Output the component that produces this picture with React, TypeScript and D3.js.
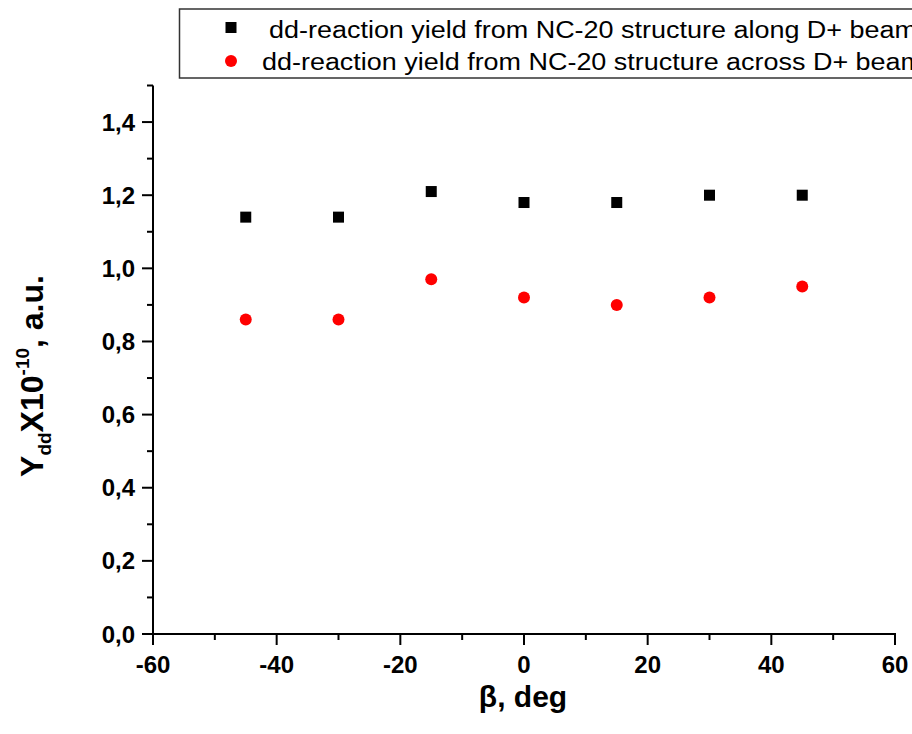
import React from "react";
import * as d3 from "d3";

const angles = [-45, -30, -15, 0, 15, 30, 45];
const alongValues = [1.14, 1.14, 1.21, 1.18, 1.18, 1.2, 1.2];
const acrossValues = [0.86, 0.86, 0.97, 0.92, 0.9, 0.92, 0.95];
const xTicks = [-60, -40, -20, 0, 20, 40, 60];
const xMinor = [-50, -30, -10, 10, 30, 50];
const yTicks = [0, 0.2, 0.4, 0.6, 0.8, 1.0, 1.2, 1.4];
const yMinor = [0.1, 0.3, 0.5, 0.7, 0.9, 1.1, 1.3, 1.5];
const legendLabels = [
  "dd-reaction yield from NC-20 structure along D+ beam",
  "dd-reaction yield from NC-20 structure across D+ beam",
];

const W = 912;
const H = 734;
const left = 153;
const right = 895;
const top = 85.5;
const bottom = 634;

export default function App() {
  const x = d3.scaleLinear().domain([-60, 60]).range([left, right]);
  const y = d3.scaleLinear().domain([0, 1.5]).range([bottom, top]);
  const font = "Arial, 'Liberation Sans', sans-serif";
  const fmt = (v: number) => v.toFixed(1).replace(".", ",");
  const sq = 11;

  return (
    <div style={{ position: "absolute", left: 0, top: 0, width: W, height: H, overflow: "hidden", background: "#fff" }}>
      <svg width={W} height={H} style={{ display: "block" }} fontFamily={font}>
        <rect width={W} height={H} fill="#fff" />
        {/* axes */}
        <line x1={left} x2={left} y1={top} y2={bottom + 1} stroke="#000" strokeWidth={2} />
        <line x1={left - 1} x2={right + 1} y1={bottom} y2={bottom} stroke="#000" strokeWidth={2} />
        {xTicks.map((t) => (
          <g key={"xt" + t}>
            <line x1={x(t)} x2={x(t)} y1={bottom} y2={bottom + 11} stroke="#000" strokeWidth={2} />
            <text x={x(t)} y={bottom + 39} textAnchor="middle" fontSize={24} fontWeight="bold">
              {t}
            </text>
          </g>
        ))}
        {xMinor.map((t) => (
          <line key={"xm" + t} x1={x(t)} x2={x(t)} y1={bottom} y2={bottom + 6} stroke="#000" strokeWidth={2} />
        ))}
        {yTicks.map((t) => (
          <g key={"yt" + t}>
            <line x1={left - 11} x2={left} y1={y(t)} y2={y(t)} stroke="#000" strokeWidth={2} />
            <text x={left - 18} y={y(t) + 8.5} textAnchor="end" fontSize={24} fontWeight="bold">
              {fmt(t)}
            </text>
          </g>
        ))}
        {yMinor.map((t) => (
          <line key={"ym" + t} x1={left - 6} x2={left} y1={y(t)} y2={y(t)} stroke="#000" strokeWidth={2} />
        ))}
        {/* data */}
        {angles.map((a, i) => (
          <rect key={"s" + i} x={x(a) - sq / 2} y={y(alongValues[i]) - sq / 2} width={sq} height={sq} fill="#000" />
        ))}
        {angles.map((a, i) => (
          <circle key={"c" + i} cx={x(a)} cy={y(acrossValues[i])} r={6} fill="#ff0000" />
        ))}
        {/* axis titles */}
        <text x={523} y={707} textAnchor="middle" fontSize={30} fontWeight="bold">
          β, deg
        </text>
        <text transform="translate(43,376) rotate(-90)" textAnchor="middle" fontSize={32} fontWeight="bold">
          <tspan>Y</tspan>
          <tspan fontSize={19} dy={8}>dd</tspan>
          <tspan dy={-8}>X10</tspan>
          <tspan fontSize={19} dy={-14}>-10</tspan>
          <tspan dy={14}>, a.u.</tspan>
        </text>
        {/* legend */}
        <rect x={179.5} y={9} width={800} height={69} fill="#fff" stroke="#333" strokeWidth={1.5} />
        <rect x={231 - 5.5} y={27.5 - 5.5} width={11} height={11} fill="#000" />
        <circle cx={231} cy={61} r={6} fill="#ff0000" />
        <text x={269} y={37.5} fontSize={23} textLength={648} lengthAdjust="spacingAndGlyphs">
          {legendLabels[0]}
        </text>
        <text x={262} y={70} fontSize={23} textLength={661} lengthAdjust="spacingAndGlyphs">
          {legendLabels[1]}
        </text>
      </svg>
    </div>
  );
}
